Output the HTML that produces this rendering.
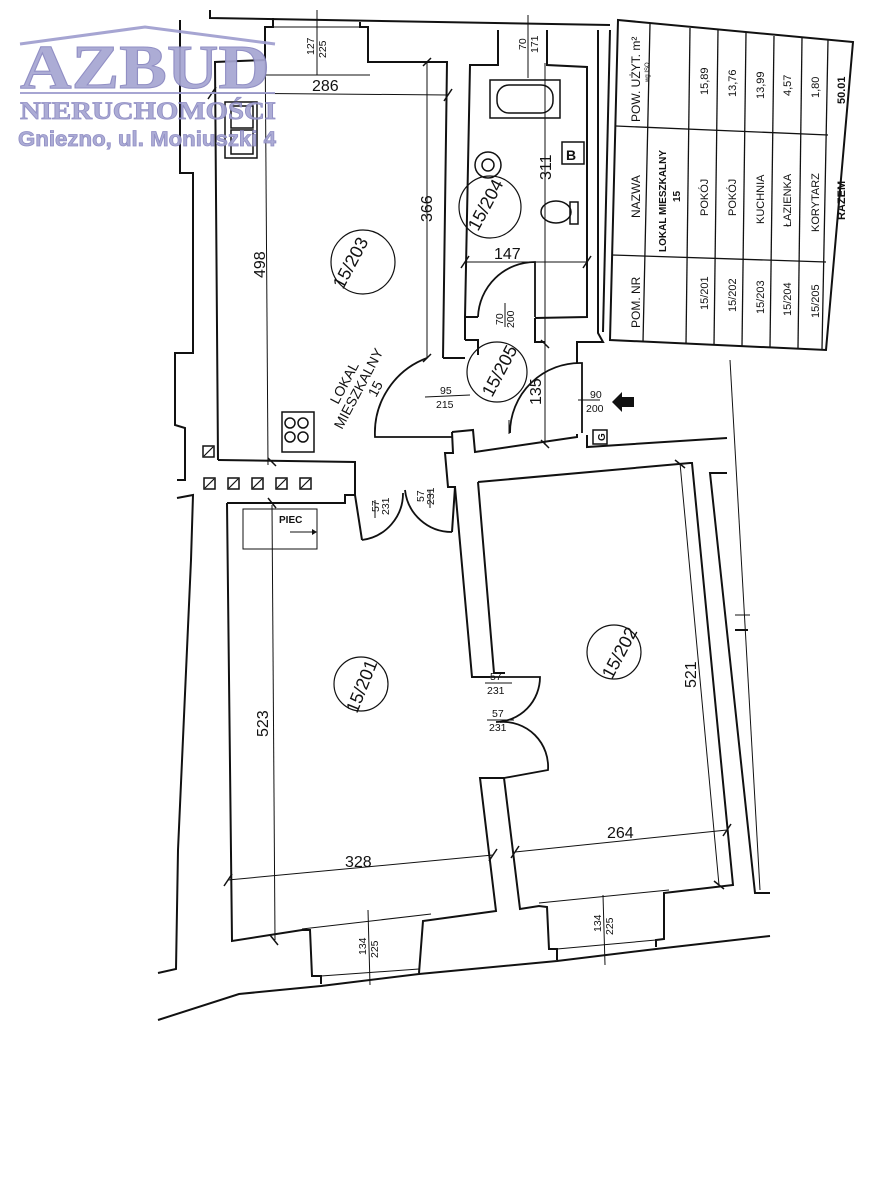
<!DOCTYPE html>
<html><head><meta charset="utf-8"><style>
html,body{margin:0;padding:0;background:#fff;}
svg{display:block;}
text{font-family:"Liberation Sans",sans-serif;fill:#111;}
</style></head><body>
<svg width="876" height="1200" viewBox="0 0 876 1200" xmlns="http://www.w3.org/2000/svg">
<g fill="none" stroke="#111" stroke-width="2" stroke-linejoin="miter">
<polyline points="210,10 210,18 610,25"/>
<!-- left outer wall -->
<polyline points="180,20 180,173 193,173 193,353 175,353 175,425 185,428 185,480 177,480"/>
<polyline points="177,498 193,495 191,560 178,850 176,969 158,973"/>
<!-- kitchen -->
<polyline points="218,460 215,62 265,60 265,27 273,27 273,18"/>
<polyline points="360,22 360,27 368,27 368,62 447,62 443,358"/>
<polyline points="218,460 355,462 355,495 345,495 345,503 227,503"/>
<line x1="273" y1="27" x2="360" y2="27" stroke-width="1"/>
<!-- bathroom -->
<polyline points="465,340 465,317 470,65 498,65 498,30"/>
<polyline points="547,30 547,65 587,67 587,317 535,318"/>
<line x1="465" y1="317" x2="478" y2="317"/>
<polyline points="598,30 598,333 603,342 577,342 577,363"/>
<polyline points="610,30 603,332"/>
<polyline points="535,318 535,342 545,342"/>
<polyline points="465,340 478,340 478,355"/>
<polyline points="443,358 465,358"/>
<!-- corridor bottom -->
<polyline points="452,432 473,430 475,452 577,437 577,434"/>
<polyline points="587,435 587,447 727,438"/>
<polyline points="452,432 453,453 445,453 448,487 455,487 452,532"/>
<!-- room 201 -->
<polyline points="227,503 232,941 302,930 310,930 312,976 321,976 321,984"/>
<polyline points="362,540 355,495"/>
<polyline points="455,487 472,677 490,677"/>
<polyline points="504,778 480,778 496,911 423,921 419,973"/>
<!-- room 202 -->
<polyline points="478,482 690,463 692,463 733,885 664,893 664,939 656,940 656,947"/>
<polyline points="478,482 494,673 505,673"/>
<polyline points="504,778 520,909 539,906 547,907 549,949 557,949 557,960"/>
<!-- bottom outer -->
<polyline points="158,1020 239,994 321,986 419,974 557,961 656,949 770,936"/>
<!-- right outer -->
<polyline points="727,473 710,473 755,893 770,893"/>
<line x1="735" y1="630" x2="748" y2="630"/>
<line x1="735" y1="615" x2="750" y2="615" stroke-width="1"/>
</g>
<g fill="none" stroke="#111" stroke-width="1">
<line x1="730" y1="360" x2="760" y2="890"/>
<line x1="302" y1="929" x2="431" y2="914"/>
<line x1="321" y1="976" x2="419" y2="969"/>
<line x1="539" y1="903" x2="669" y2="890"/>
<line x1="557" y1="949" x2="656" y2="940"/>
<line x1="509" y1="420" x2="509" y2="434"/>
<!-- dimensions -->
<line x1="212" y1="93" x2="448" y2="95"/>
<line x1="427" y1="62" x2="427" y2="358"/>
<line x1="265" y1="27" x2="268" y2="465"/>
<line x1="545" y1="63" x2="545" y2="445"/>
<line x1="465" y1="262" x2="587" y2="262"/>
<line x1="317" y1="10" x2="317" y2="75"/>
<line x1="528" y1="15" x2="528" y2="78"/>
<line x1="272" y1="505" x2="275" y2="940"/>
<line x1="228" y1="880" x2="493" y2="855"/>
<line x1="515" y1="852" x2="727" y2="830"/>
<line x1="680" y1="463" x2="719" y2="885"/>
<line x1="368" y1="910" x2="370" y2="985"/>
<line x1="603" y1="895" x2="605" y2="965"/>
<line x1="265" y1="75" x2="370" y2="75"/>
<g stroke-width="1.5">
<line x1="208" y1="99" x2="216" y2="87"/><line x1="444" y1="101" x2="452" y2="89"/>
<line x1="423" y1="66" x2="431" y2="58"/><line x1="423" y1="362" x2="431" y2="354"/>
<line x1="461" y1="268" x2="469" y2="256"/><line x1="583" y1="268" x2="591" y2="256"/>
<line x1="224" y1="886" x2="232" y2="874"/><line x1="489" y1="861" x2="497" y2="849"/>
<line x1="511" y1="858" x2="519" y2="846"/><line x1="723" y1="836" x2="731" y2="824"/>
<line x1="268" y1="458" x2="276" y2="466"/><line x1="268" y1="498" x2="276" y2="508"/>
<line x1="270" y1="935" x2="278" y2="945"/>
<line x1="541" y1="340" x2="549" y2="348"/><line x1="541" y1="440" x2="549" y2="448"/>
<line x1="675" y1="460" x2="685" y2="468"/><line x1="714" y1="881" x2="724" y2="889"/>
</g>
</g>
<!-- doors -->
<g fill="none" stroke="#111" stroke-width="1.8">
<path d="M452,437 L375,437 A80,80 0 0 1 427,358"/>
<path d="M535,317 L535,262 A57,57 0 0 0 478,317"/>
<path d="M582,433 L582,363 A70,70 0 0 0 510,433"/>
<path d="M362,540 A47,47 0 0 0 403,493"/>
<path d="M452,532 A47,47 0 0 1 405,490"/>
<path d="M490,677 L540,677 A45,45 0 0 1 496,722"/>
<path d="M504,778 L548,770 A45,45 0 0 0 500,722"/>
</g>
<g stroke="#111" stroke-width="1">
<line x1="425" y1="397" x2="470" y2="395"/>
<line x1="578" y1="400" x2="600" y2="400"/>
<line x1="375" y1="500" x2="375" y2="518"/>
<line x1="430" y1="490" x2="430" y2="508"/>
<line x1="485" y1="683" x2="512" y2="683"/>
<line x1="487" y1="720" x2="514" y2="720"/>
<line x1="505" y1="303" x2="505" y2="327"/>
</g>
<!-- fixtures -->
<g fill="none" stroke="#111" stroke-width="1.5">
<rect x="490" y="80" width="70" height="38"/>
<rect x="497" y="85" width="56" height="28" rx="12"/>
<rect x="225" y="102" width="32" height="56"/>
<rect x="231" y="106" width="22" height="22"/><rect x="231" y="130" width="22" height="24"/>
<rect x="282" y="412" width="32" height="40"/>
<circle cx="290" cy="423" r="5"/><circle cx="303" cy="423" r="5"/><circle cx="290" cy="437" r="5"/><circle cx="303" cy="437" r="5"/>
<rect x="562" y="142" width="22" height="22"/>
<circle cx="488" cy="165" r="13"/><circle cx="488" cy="165" r="6"/>
<ellipse cx="556" cy="212" rx="15" ry="11"/><rect x="570" y="202" width="8" height="22"/>
<rect x="243" y="509" width="74" height="40" stroke-width="1"/>
<rect x="593" y="430" width="14" height="14"/>
<circle cx="363" cy="262" r="32" stroke-width="1.2"/>
<circle cx="490" cy="207" r="31" stroke-width="1.2"/>
<circle cx="497" cy="372" r="30" stroke-width="1.2"/>
<circle cx="361" cy="684" r="27" stroke-width="1.2"/>
<circle cx="614" cy="652" r="27" stroke-width="1.2"/>
</g>
<g fill="#fff" stroke="#111" stroke-width="1.5">
<rect x="203" y="446" width="11" height="11"/>
<rect x="204" y="478" width="11" height="11"/><rect x="228" y="478" width="11" height="11"/><rect x="252" y="478" width="11" height="11"/><rect x="276" y="478" width="11" height="11"/><rect x="300" y="478" width="11" height="11"/>
</g>
<g stroke="#111" stroke-width="1.2">
<line x1="204" y1="456" x2="213" y2="447"/>
<line x1="205" y1="488" x2="214" y2="479"/><line x1="229" y1="488" x2="238" y2="479"/><line x1="253" y1="488" x2="262" y2="479"/><line x1="277" y1="488" x2="286" y2="479"/><line x1="301" y1="488" x2="310" y2="479"/>
</g>
<polygon points="612,402 622,392 622,397 634,397 634,407 622,407 622,412" fill="#111"/>
<g font-size="16">
<text x="312" y="91">286</text>
<text x="494" y="259">147</text>
<text x="345" y="867">328</text>
<text x="607" y="838">264</text>
<text transform="translate(432,222) rotate(-90)">366</text>
<text transform="translate(265,278) rotate(-90)">498</text>
<text transform="translate(551,180) rotate(-90)">311</text>
<text transform="translate(541,405) rotate(-90)">135</text>
<text transform="translate(268,737) rotate(-90)">523</text>
<text transform="translate(696,688) rotate(-90)">521</text>
<text font-size="18" transform="translate(343,290) rotate(-62)">15/203</text>
<text font-size="18" transform="translate(478,232) rotate(-62)">15/204</text>
<text font-size="18" transform="translate(492,398) rotate(-62)">15/205</text>
<text font-size="18" transform="translate(357,714) rotate(-68)">15/201</text>
<text font-size="18" transform="translate(612,680) rotate(-62)">15/202</text>
<text font-size="14" transform="translate(338,405) rotate(-62)">LOKAL</text>
<text font-size="14" transform="translate(342,430) rotate(-62)">MIESZKALNY</text>
<text font-size="14" transform="translate(376,398) rotate(-62)">15</text>
</g>
<g font-size="10.5">
<text x="440" y="394">95</text><text x="436" y="408">215</text>
<text x="590" y="398">90</text><text x="586" y="412">200</text>
<text x="490" y="680">57</text><text x="487" y="694">231</text>
<text x="492" y="717">57</text><text x="489" y="731">231</text>
<text transform="translate(379,512) rotate(-90)">57</text><text transform="translate(389,515) rotate(-90)">231</text>
<text transform="translate(424,502) rotate(-90)">57</text><text transform="translate(434,505) rotate(-90)">231</text>
<text transform="translate(503,325) rotate(-90)">70</text><text transform="translate(514,328) rotate(-90)">200</text>
<text transform="translate(314,55) rotate(-90)">127</text><text transform="translate(326,58) rotate(-90)">225</text>
<text transform="translate(526,50) rotate(-90)">70</text><text transform="translate(538,53) rotate(-90)">171</text>
<text transform="translate(366,955) rotate(-90)">134</text><text transform="translate(378,958) rotate(-90)">225</text>
<text transform="translate(601,932) rotate(-90)">134</text><text transform="translate(613,935) rotate(-90)">225</text>
<text x="279" y="523" font-size="10" font-weight="bold">PIEC</text>
<text x="566" y="160" font-size="14" font-weight="bold">B</text>
<text transform="translate(605,441) rotate(-90)" font-size="10" font-weight="bold">G</text>
</g>
<line x1="290" y1="532" x2="312" y2="532" stroke="#111"/><polygon points="312,529 317,532 312,535" fill="#111"/>
<!-- table -->
<polygon points="618,20 853,42 826,350 610,340" fill="none" stroke="#111" stroke-width="2"/>
<g stroke="#111" stroke-width="1.3">
<line x1="650" y1="24" x2="643" y2="342"/>
<line x1="690" y1="28" x2="686" y2="344"/>
<line x1="718" y1="30" x2="714" y2="345"/>
<line x1="746" y1="33" x2="742" y2="346"/>
<line x1="774" y1="36" x2="770" y2="347"/>
<line x1="802" y1="38" x2="798" y2="348"/>
<line x1="828" y1="40" x2="822" y2="349"/>
<line x1="616" y1="126" x2="828" y2="135"/>
<line x1="612" y1="255" x2="826" y2="262"/>
</g>
<g font-size="11">
<text transform="translate(640,122) rotate(-90)" font-size="12">POW. UŻYT. m²</text>
<text transform="translate(649,82) rotate(-90)" font-size="6">wg ISO</text>
<text transform="translate(640,218) rotate(-90)" font-size="12">NAZWA</text>
<text transform="translate(640,328) rotate(-90)" font-size="12">POM. NR</text>
<text transform="translate(666,252) rotate(-90)" font-size="10" font-weight="bold">LOKAL MIESZKALNY</text>
<text transform="translate(680,202) rotate(-90)" font-size="10" font-weight="bold">15</text>
<text transform="translate(708,216) rotate(-90)">POKÓJ</text>
<text transform="translate(736,216) rotate(-90)">POKÓJ</text>
<text transform="translate(764,224) rotate(-90)">KUCHNIA</text>
<text transform="translate(791,227) rotate(-90)">ŁAZIENKA</text>
<text transform="translate(819,232) rotate(-90)">KORYTARZ</text>
<text transform="translate(845,220) rotate(-90)" font-weight="bold">RAZEM</text>
<text transform="translate(708,310) rotate(-90)">15/201</text>
<text transform="translate(736,312) rotate(-90)">15/202</text>
<text transform="translate(764,314) rotate(-90)">15/203</text>
<text transform="translate(791,316) rotate(-90)">15/204</text>
<text transform="translate(819,318) rotate(-90)">15/205</text>
<text transform="translate(708,95) rotate(-90)">15,89</text>
<text transform="translate(736,97) rotate(-90)">13,76</text>
<text transform="translate(764,99) rotate(-90)">13,99</text>
<text transform="translate(791,96) rotate(-90)">4,57</text>
<text transform="translate(819,98) rotate(-90)">1,80</text>
<text transform="translate(845,104) rotate(-90)" font-weight="bold">50.01</text>
</g>
<!-- logo -->
<g opacity="0.92">
<polyline points="20,44 145,27 275,44" fill="none" stroke="#9f9ecf" stroke-width="3"/>
<line x1="20" y1="93" x2="275" y2="93" stroke="#9f9ecf" stroke-width="2"/>
<text x="20" y="88" textLength="250" lengthAdjust="spacingAndGlyphs" style="font-family:'Liberation Serif',serif;font-size:62px;font-weight:bold;fill:#a6a5d2;stroke:#8886c0;stroke-width:1">AZBUD</text>
<text x="20" y="119" textLength="256" lengthAdjust="spacingAndGlyphs" style="font-family:'Liberation Serif',serif;font-size:25px;font-weight:bold;fill:#a6a5d2;stroke:#8886c0;stroke-width:0.8">NIERUCHOMOŚCI</text>
<text x="18" y="146" textLength="258" lengthAdjust="spacingAndGlyphs" style="font-size:21px;font-weight:bold;fill:#a6a5d2;stroke:#8886c0;stroke-width:0.8">Gniezno, ul. Moniuszki 4</text>
</g>
</svg>
</body></html>
